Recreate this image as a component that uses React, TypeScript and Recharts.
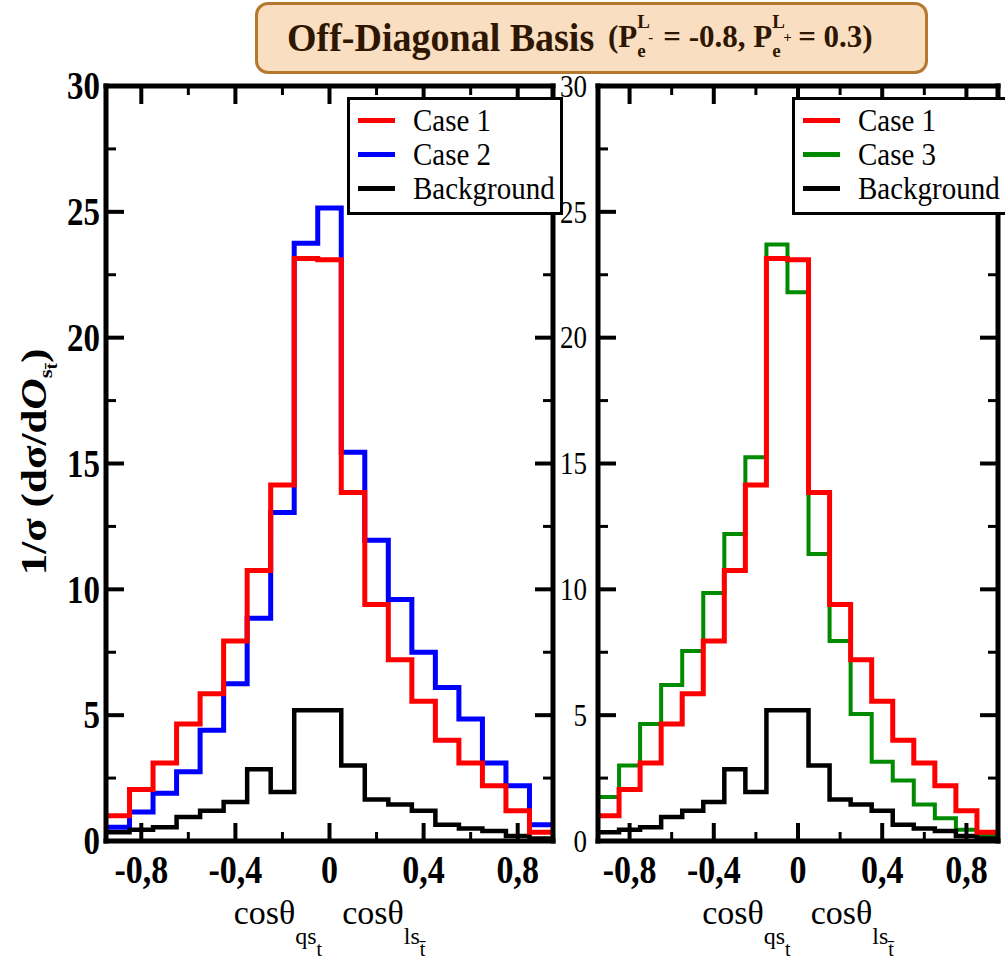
import { Label, Legend, Line, LineChart, XAxis, YAxis } from "recharts";

// bin centres of cos(theta) x cos(theta), width 0.1
const binCenters = [-0.9, -0.8, -0.7, -0.6, -0.5, -0.4, -0.3, -0.2, -0.1, 0, 0.1, 0.2, 0.3, 0.4, 0.5, 0.6, 0.7, 0.8, 0.9];
const case1 = [1.0, 2.05, 3.1, 4.65, 5.85, 7.95, 10.75, 14.15, 23.15, 23.1, 13.85, 9.4, 7.2, 5.55, 4.0, 3.1, 2.2, 1.2, 0.35];
const case2 = [0.55, 1.15, 1.9, 2.75, 4.4, 6.25, 8.85, 13.05, 23.75, 25.15, 15.45, 11.95, 9.6, 7.5, 6.1, 4.85, 3.1, 2.2, 0.65];
const case3 = [1.75, 3.0, 4.65, 6.2, 7.55, 9.85, 12.2, 15.25, 23.7, 21.8, 11.4, 7.95, 5.05, 3.15, 2.4, 1.45, 0.9, 0.45, 0.2];
const background = [0.35, 0.45, 0.55, 0.95, 1.2, 1.55, 2.85, 1.95, 5.2, 5.2, 3.0, 1.65, 1.45, 1.2, 0.65, 0.5, 0.4, 0.2, 0.1];

const yTicks = [0, 2.5, 5, 7.5, 10, 12.5, 15, 17.5, 20, 22.5, 25, 27.5, 30];
const xTicks = [-0.8, -0.6, -0.4, -0.2, 0, 0.2, 0.4, 0.6, 0.8];
const xTickLabels: Record<string, string> = { "-0.8": "-0,8", "-0.4": "-0,4", "0": "0", "0.4": "0,4", "0.8": "0,8" };

const FONT = "'Liberation Serif', 'Times New Roman', serif";
const BIN = 0.1;
const X_DOMAIN: [number, number] = [-0.95, 0.95];

type Series = { key: string; name: string; color: string; width: number };

const leftSeries: Series[] = [
  { key: "c2", name: "Case 2", color: "#0000ff", width: 5 },
  { key: "bg", name: "Background", color: "#000000", width: 4.5 },
  { key: "c1", name: "Case 1", color: "#ff0000", width: 5 },
];
const rightSeries: Series[] = [
  { key: "c3", name: "Case 3", color: "#008a00", width: 4 },
  { key: "bg", name: "Background", color: "#000000", width: 4.5 },
  { key: "c1", name: "Case 1", color: "#ff0000", width: 5 },
];

// histogram rows: each bin starts at its left edge, last row closes the final bin
const buildRows = (series: Record<string, number[]>) => {
  const keys = Object.keys(series);
  const r2 = (v: number) => Math.round(v * 100) / 100;
  const rows = binCenters.map((c, i) => {
    const row: any = { x: r2(c - BIN / 2) };
    keys.forEach((k) => (row[k] = series[k][i]));
    return row;
  });
  const n = binCenters.length - 1;
  const last: any = { x: r2(binCenters[n] + BIN / 2) };
  keys.forEach((k) => (last[k] = series[k][n]));
  rows.push(last);
  return rows;
};

const leftRows = buildRows({ c1: case1, c2: case2, bg: background });
const rightRows = buildRows({ c1: case1, c3: case3, bg: background });

const isMajorY = (v: number) => v % 5 === 0;
const isMajorX = (v: number) => Math.round(Math.abs(v) * 10) % 4 === 0;

type LabelStyle = { weight: string; size: number; gap: number; dy: number } | null;

const yTick = (side: "left" | "right", ls: LabelStyle) => (props: any) => {
  const { x, y, payload } = props;
  const v = payload.value;
  const major = isMajorY(v);
  const dir = side === "left" ? 1 : -1;
  return (
    <g>
      <line x1={x} x2={x + dir * (major ? 18 : 10)} y1={y} y2={y} stroke="#000" strokeWidth={major ? 4 : 3} />
      {ls && major && (
        <text
          transform={`translate(${x - ls.gap},${y}) scale(1,1.2)`}
          textAnchor="end"
          dy={ls.dy}
          fontFamily={FONT}
          fontSize={ls.size}
          fontWeight={ls.weight}
          fill="#000"
        >
          {v}
        </text>
      )}
    </g>
  );
};

const xTick = (side: "top" | "bottom", labels: boolean) => (props: any) => {
  const { x, y, payload } = props;
  const v = payload.value;
  const major = isMajorX(v);
  const dir = side === "bottom" ? -1 : 1;
  const label = xTickLabels[String(v)];
  return (
    <g>
      <line x1={x} x2={x} y1={y} y2={y + dir * (major ? 18 : 9)} stroke="#000" strokeWidth={major ? 4 : 3} />
      {labels && label && (
        <text
          transform={`translate(${x},${y + 42}) scale(1,1.2)`}
          textAnchor="middle"
          fontFamily={FONT}
          fontSize={34}
          fontWeight="bold"
          fill="#000"
        >
          {label}
        </text>
      )}
    </g>
  );
};

const xTitle = (props: any) => {
  const vb = props.viewBox || {};
  const cx = vb.x + vb.width / 2;
  return (
    <text x={cx} y={vb.y + 83} textAnchor="middle" fontFamily={FONT} fontSize={34} fill="#000">
      <tspan>cosθ</tspan>
      <tspan fontSize={24} dy={20}>qs</tspan>
      <tspan fontSize={20} dy={12}>t</tspan>
      <tspan fontSize={34} dy={-32} dx={20}>cosθ</tspan>
      <tspan fontSize={24} dy={20}>ls</tspan>
      <tspan fontSize={20} dy={12}>t̄</tspan>
    </text>
  );
};

const yTitle = () => (
  <text
    transform="translate(46,462) scale(1,1.2) rotate(-90)"
    textAnchor="middle"
    fontFamily={FONT}
    fontSize={36}
    fontWeight="bold"
    fill="#000"
  >
    <tspan>1/σ (dσ/d</tspan>
    <tspan fontStyle="italic">O</tspan>
    <tspan fontSize={19} dy={6}>s</tspan>
    <tspan fontSize={16} dy={5}>t̄</tspan>
    <tspan dy={-11}>)</tspan>
  </text>
);

const legendBox = (items: Series[]) => () => (
  <div
    style={{
      width: 216,
      height: 118,
      boxSizing: "border-box",
      border: "3px solid #000",
      background: "#fff",
      position: "relative",
      fontFamily: FONT,
    }}
  >
    {items.map((s, i) => (
      <div key={s.key} style={{ position: "absolute", left: 8, top: 5 + i * 34, height: 30, display: "flex", alignItems: "center", whiteSpace: "nowrap" }}>
        <div style={{ width: 37, height: 5, background: s.color }} />
        <span style={{ marginLeft: 18, fontSize: 29, lineHeight: "30px", display: "inline-block", transform: "scaleY(1.12)", color: "#000" }}>
          {s.name}
        </span>
      </div>
    ))}
  </div>
);

const frame = { stroke: "#000", strokeWidth: 5, strokeLinecap: "square" as const };

type PanelProps = {
  left: number;
  width: number;
  rows: any[];
  series: Series[];
  legendOrder: Series[];
  legendLeft: number;
  yAxisWidth: number;
  rightMargin: number;
  rightAxisWidth: number;
  yLabel: LabelStyle;
  showYTitle: boolean;
};

const Panel = (p: PanelProps) => (
  <div style={{ position: "absolute", left: p.left, top: 0 }}>
    <LineChart width={p.width} height={965} data={p.rows} margin={{ top: 76, right: p.rightMargin, bottom: 0, left: 0 }}>
      <XAxis
        xAxisId="b"
        type="number"
        dataKey="x"
        domain={X_DOMAIN}
        allowDataOverflow
        ticks={xTicks}
        interval={0}
        height={124}
        tickSize={0}
        tickMargin={0}
        tickLine={false}
        axisLine={frame}
        tick={xTick("bottom", true)}
      >
        <Label content={xTitle} />
      </XAxis>
      <XAxis
        xAxisId="t"
        orientation="top"
        type="number"
        dataKey="x"
        domain={X_DOMAIN}
        allowDataOverflow
        ticks={xTicks}
        interval={0}
        height={10}
        tickSize={0}
        tickMargin={0}
        tickLine={false}
        axisLine={frame}
        tick={xTick("top", false)}
      />
      <YAxis
        yAxisId="l"
        type="number"
        domain={[0, 30]}
        allowDataOverflow
        ticks={yTicks}
        interval={0}
        width={p.yAxisWidth}
        tickSize={0}
        tickMargin={0}
        tickLine={false}
        axisLine={frame}
        tick={yTick("left", p.yLabel)}
      >
        {p.showYTitle && <Label content={yTitle} />}
      </YAxis>
      <YAxis
        yAxisId="r"
        orientation="right"
        type="number"
        domain={[0, 30]}
        allowDataOverflow
        ticks={yTicks}
        interval={0}
        width={p.rightAxisWidth}
        tickSize={0}
        tickMargin={0}
        tickLine={false}
        axisLine={frame}
        tick={yTick("right", null)}
      />
      {p.series.map((s) => (
        <Line
          key={s.key}
          xAxisId="b"
          yAxisId="l"
          type="stepAfter"
          dataKey={s.key}
          name={s.name}
          stroke={s.color}
          strokeWidth={s.width}
          dot={false}
          activeDot={false}
          isAnimationActive={false}
        />
      ))}
      <Legend
        layout="vertical"
        align="center"
        verticalAlign="middle"
        content={legendBox(p.legendOrder)}
        wrapperStyle={{ left: p.legendLeft, top: 97, width: 216 }}
      />
    </LineChart>
  </div>
);

const Pol = ({ sign }: { sign: string }) => (
  <span style={{ position: "relative", display: "inline-block", marginRight: 26 }}>
    P
    <span style={{ position: "absolute", left: "100%", top: -9, fontSize: 19, lineHeight: "19px" }}>L</span>
    <span style={{ position: "absolute", left: "100%", top: 20, fontSize: 19, lineHeight: "19px" }}>e</span>
    <span style={{ position: "absolute", left: "calc(100% + 11px)", top: 9, fontSize: 15, lineHeight: "15px" }}>{sign}</span>
  </span>
);

const App = () => {
  const [l1, l2, l3] = [leftSeries[2], leftSeries[0], leftSeries[1]];
  const [r1, r2, r3] = [rightSeries[2], rightSeries[0], rightSeries[1]];
  return (
    <div style={{ position: "absolute", left: 0, top: 0, width: 1005, height: 965, overflow: "hidden", background: "#fff" }}>
      <Panel
        left={0}
        width={575}
        rows={leftRows}
        series={leftSeries}
        legendOrder={[l1, l2, l3]}
        legendLeft={347}
        yAxisWidth={106}
        rightMargin={12}
        rightAxisWidth={10}
        yLabel={{ weight: "bold", size: 33, gap: 6, dy: 11 }}
        showYTitle
      />
      <Panel
        left={560}
        width={445}
        rows={rightRows}
        series={rightSeries}
        legendOrder={[r1, r2, r3]}
        legendLeft={232}
        yAxisWidth={38}
        rightMargin={2}
        rightAxisWidth={5}
        yLabel={{ weight: "normal", size: 27, gap: 11, dy: 9 }}
        showYTitle={false}
      />
      <div
        style={{
          position: "absolute",
          left: 255,
          top: 2,
          width: 673,
          height: 72,
          boxSizing: "border-box",
          border: "3px solid #b5782f",
          borderRadius: 13,
          background: "#f9dec1",
          fontFamily: FONT,
          color: "#2e1600",
        }}
      >
        <span style={{ position: "absolute", left: 29, top: 13, fontSize: 38, lineHeight: "38px", fontWeight: "bold", whiteSpace: "nowrap", display: "inline-block", transform: "scaleY(1.08)" }}>
          Off-Diagonal Basis
        </span>
        <span style={{ position: "absolute", left: 350, top: 16, fontSize: 31, lineHeight: "31px", fontWeight: "bold", whiteSpace: "nowrap" }}>
          (<Pol sign="-" />= -0.8, <Pol sign="+" />= 0.3)
        </span>
      </div>
    </div>
  );
};

export default App;
